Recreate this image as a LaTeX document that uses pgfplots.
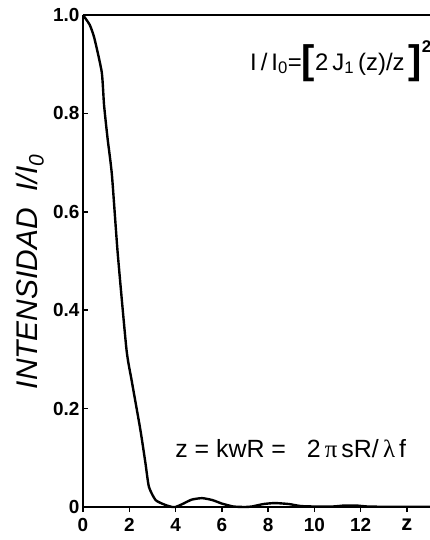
\documentclass[border=0pt]{standalone}
\usepackage{fontspec}
\setmainfont{Liberation Sans}
\newfontfamily\grk{Liberation Serif}
\usepackage{pgfplots}
\pgfplotsset{compat=1.18}

% intensity
\pgfplotstableread{
z     I
0.00  1.000
0.29  0.980
0.49  0.953
0.81  0.884
0.91  0.817
1.06  0.750
1.25  0.675
1.50  0.516
1.88  0.320
2.10  0.258
2.48  0.157
2.70  0.089
2.85  0.041
3.14  0.014
3.57  0.004
3.86  0.000
4.00  0.000
4.30  0.006
4.70  0.015
5.15  0.018
5.60  0.014
6.00  0.007
6.50  0.001
7.00  0.000
7.30  0.001
7.80  0.006
8.30  0.008
8.90  0.006
9.40  0.002
10.00 0.001
10.80 0.001
11.30 0.003
11.80 0.003
12.30 0.001
13.00 0.0005
15.00 0.0005
}\airy

\begin{document}
\begin{tikzpicture}
\begin{axis}[
  scale only axis, width=347bp, height=492bp,
  xmin=0, xmax=15, ymin=0, ymax=1,
  axis lines*=left,
  axis line style={-, line width=2.2pt},
  xtick={0,2,...,14}, xticklabels={0,2,4,6,8,10,12,{\fontsize{22}{22}\selectfont z}},
  ytick={0,0.2,0.4,0.6,0.8,1.0}, yticklabels={0,0.2,0.4,0.6,0.8,1.0},
  tick align=inside,
  major tick length=5bp,
  tick style={line width=1.5pt, black},
  x tick style={yshift=-5bp},
  tick label style={font=\fontsize{19}{19}\selectfont\bfseries},
  xticklabel style={yshift=-8bp},
  ylabel={INTENSIDAD\ \ I/I\textsubscript{0}},
  ylabel style={font=\fontsize{30}{30}\selectfont\itshape,
    at={(axis description cs:-0.153,0.478)}, anchor=center},
  clip=false,
]
\addplot[black, line width=2.4pt, smooth, tension=0.35] table[x=z, y=I] {\airy};
\draw[line width=2pt] (rel axis cs:0,1) -- (rel axis cs:1,1);
\node[anchor=base west, font=\fontsize{24}{24}\selectfont, inner sep=0pt]
  at (axis cs:7.22,0.888)
  {I\,/\,I\textsubscript{0}=\raisebox{-3.5bp}{\fontsize{40}{40}\selectfont\bfseries[}2\,J\textsubscript{1}\,(z)/z\,\raisebox{-3.5bp}{\fontsize{40}{40}\selectfont\bfseries]}\raisebox{18bp}{\fontsize{17}{17}\selectfont\bfseries 2}};
\node[anchor=base west, font=\fontsize{25}{25}\selectfont, inner sep=0pt]
  at (axis cs:3.98,0.0996)
  {z = kwR =\ \ \ 2\,{\grk π}\,sR/\,{\grk λ}\,f};
\end{axis}
\pgfresetboundingbox
\path[use as bounding box] ([shift={(-83bp,-33bp)}]current axis.south west)
  rectangle ([shift={(0bp,15bp)}]current axis.north east);
\end{tikzpicture}
\end{document}
